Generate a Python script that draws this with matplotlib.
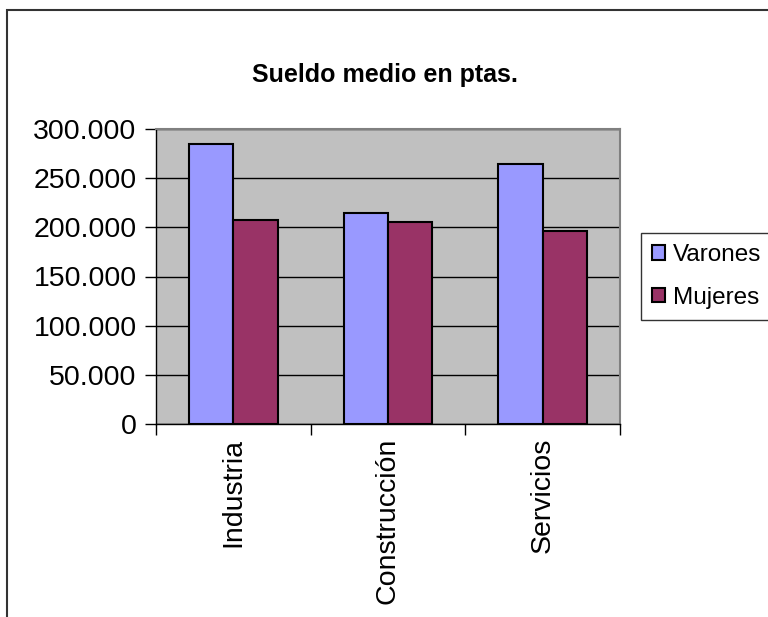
import numpy as np
import matplotlib
matplotlib.use('Agg')
import matplotlib.pyplot as plt
from matplotlib.patches import Rectangle
from matplotlib.ticker import FuncFormatter, FixedLocator

plt.rcParams['font.family'] = ['Liberation Sans', 'DejaVu Sans']

categorias = ['Industria', 'Construcción', 'Servicios']
varones = [285000, 215000, 264000]
mujeres = [207000, 205000, 196000]
series = ['Varones', 'Mujeres']
colores = ['#9999FF', '#993366']

fig = plt.figure(figsize=(7.68, 6.17), dpi=100)
# outer chart border (only left and top visible in the original crop)
fig.patches.append(Rectangle((7/768, -0.1), 1.2, 1 - 10/617 + 0.1, transform=fig.transFigure,
                             fill=False, edgecolor='#333333', lw=1.5))

ax = fig.add_axes([156/768, 1 - 424/617, 464/768, 295/617])
ax.set_facecolor('#C0C0C0')

x = np.arange(len(categorias))
w = 1 / 3.5
ax.bar(x - w/2, varones, w, color=colores[0], edgecolor='black', lw=1.5, label=series[0], zorder=3)
ax.bar(x + w/2, mujeres, w, color=colores[1], edgecolor='black', lw=1.5, label=series[1], zorder=3)

ax.set_xlim(-0.5, len(categorias) - 0.5)
ax.set_ylim(0, 300000)
ax.set_yticks(np.arange(0, 300001, 50000))
ax.yaxis.set_major_formatter(FuncFormatter(lambda v, p: '0' if v == 0 else f'{int(v):,}'.replace(',', '.')))
ax.grid(axis='y', color='black', lw=1, zorder=1)

ax.xaxis.set_major_locator(FixedLocator([-0.5, 0.5, 1.5, 2.5]))
ax.set_xticklabels([])
ax.xaxis.set_minor_locator(FixedLocator(x))
ax.set_xticklabels(categorias, minor=True, rotation=90, fontsize=20.5)
ax.tick_params(axis='x', which='minor', length=0, pad=10)
ax.tick_params(axis='x', which='major', length=8, width=1, direction='out')
ax.tick_params(axis='y', length=8, width=1, direction='out', labelsize=20.5, pad=6)

for s in ['top', 'right']:
    ax.spines[s].set_color('#808080')
    ax.spines[s].set_linewidth(1.5)
for s in ['left', 'bottom']:
    ax.spines[s].set_color('black')
    ax.spines[s].set_linewidth(1)

fig.text(385/768, 1 - 75/617, 'Sueldo medio en ptas.', ha='center', va='center',
         fontsize=18, fontweight='bold')

leg = fig.legend(loc='upper left', bbox_to_anchor=(641/768, 1 - 233/617), fontsize=17.5,
                 frameon=True, fancybox=False, edgecolor='black', handlelength=0.55,
                 handleheight=0.55, handletextpad=0.3, borderpad=0.45, labelspacing=0.85,
                 borderaxespad=0)
leg.get_frame().set_linewidth(1)

fig.savefig('out.png', dpi=100)
